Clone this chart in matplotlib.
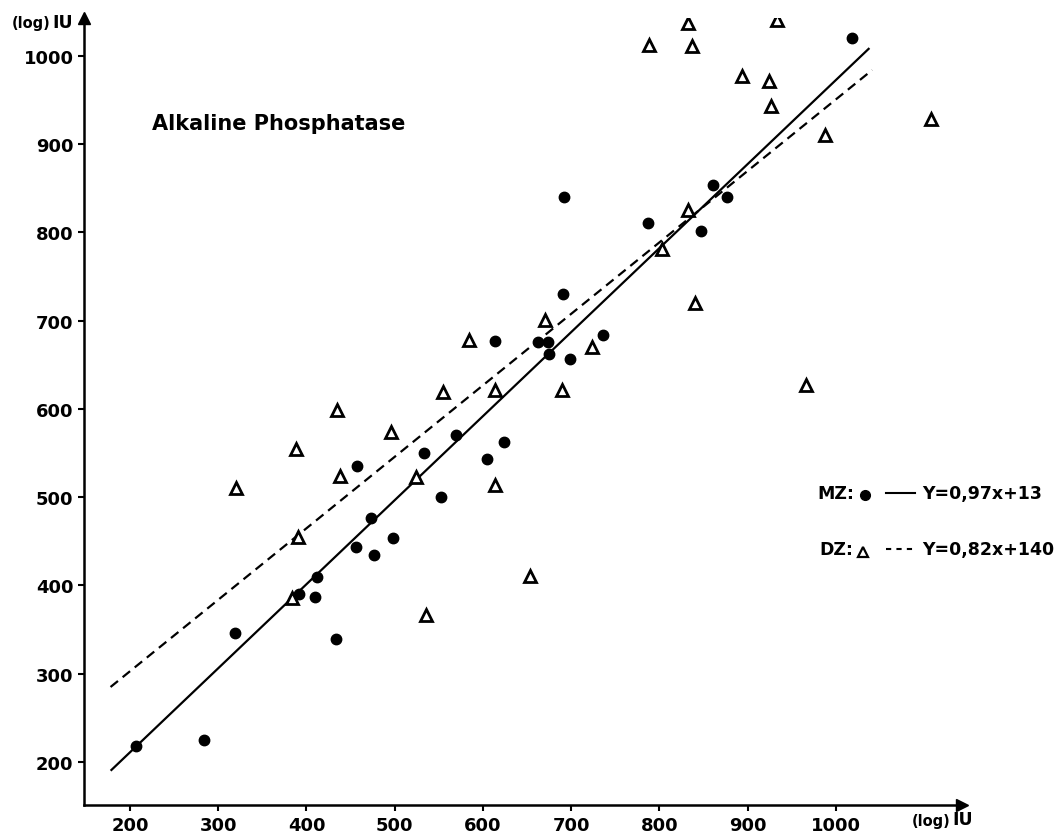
import numpy as np
import matplotlib
matplotlib.use("Agg")
import matplotlib.pyplot as plt

# MZ twins (filled dots)
mz_x = [207, 284, 319, 392, 410, 412, 434, 457, 456, 473, 476, 498, 533, 552, 570,
        605, 624, 614, 662, 674, 675, 699, 736, 691, 692, 787, 861, 876, 847, 1018]
mz_y = [218, 225, 346, 390, 387, 410, 339, 535, 444, 476, 434, 454, 550, 500, 570,
        543, 563, 677, 676, 676, 662, 657, 684, 730, 840, 811, 854, 840, 802, 1020]

# DZ twins (open triangles)
dz_x = [320, 388, 390, 384, 435, 438, 496, 524, 535, 555, 584, 614, 614, 653, 670,
        690, 724, 803, 832, 840, 966, 988, 926, 924, 894, 837, 788, 832, 933, 1108]
dz_y = [510, 555, 455, 386, 599, 524, 574, 523, 366, 619, 678, 622, 514, 411, 701,
        621, 670, 781, 825, 720, 627, 910, 943, 972, 977, 1011, 1012, 1037, 1041, 928]

# regression lines as drawn (end points)
mz_line_x = [179, 1037]
mz_line_y = [191, 1008]
dz_line_x = [178, 1041]
dz_line_y = [285, 984]
mz_label = "Y=0,97x+13"
dz_label = "Y=0,82x+140"

ticks = [200, 300, 400, 500, 600, 700, 800, 900, 1000]

plt.rcParams["font.family"] = ["DejaVu Sans"]
plt.rcParams["font.weight"] = "bold"

fig = plt.figure(figsize=(10.59, 8.37), dpi=100)
ax = fig.add_axes([0.0793, 0.03704, 0.8291, 0.9403])

ax.plot(mz_line_x, mz_line_y, color="black", lw=1.6)
ax.plot(dz_line_x, dz_line_y, color="black", lw=1.6, dashes=(4.3, 2.7))

ax.plot(mz_x, mz_y, "o", color="black", ms=7.5, ls="none")
ax.plot(dz_x, dz_y, "^", mfc="white", mec="black", mew=2, ms=8.5, ls="none")

ax.set_xlim(147.9, 1142.8)
ax.set_ylim(151.3, 1043)
ax.set_xticks(ticks)
ax.set_yticks(ticks)
ax.tick_params(axis="y", direction="out", length=4, width=1.5, labelsize=13, pad=3.5)
ax.tick_params(axis="x", direction="out", length=4, width=1.5, labelsize=13, pad=4)
for lab in ax.get_xticklabels() + ax.get_yticklabels():
    lab.set_fontweight("bold")

for s in ["top", "right"]:
    ax.spines[s].set_visible(False)
for s in ["left", "bottom"]:
    ax.spines[s].set_linewidth(1.8)

# arrow heads on the axes
ax.plot(1, 0, ">", color="black", ms=9, transform=ax.transAxes, clip_on=False)
ax.plot(0, 1, "^", color="black", ms=9, transform=ax.transAxes, clip_on=False)

# axis labels
fig.text(0.048, 0.972, "(log)", fontsize=10.5, fontweight="bold", ha="right", va="center")
fig.text(0.049, 0.973, "IU", fontsize=12.5, fontweight="bold", ha="left", va="center")
fig.text(0.898, 0.019, "(log)", fontsize=10.5, fontweight="bold", ha="right", va="center")
fig.text(0.899, 0.020, "IU", fontsize=12.5, fontweight="bold", ha="left", va="center")

ax.text(0.077, 0.867, "Alkaline Phosphatase", transform=ax.transAxes,
        fontsize=15, fontweight="bold", ha="left", va="center")

# key
ky1, ky2 = 0.397, 0.325
ax.text(0.835, ky1, "MZ:", transform=ax.transAxes, fontsize=12.5, fontweight="bold",
        ha="left", va="center", clip_on=False)
ax.plot(0.889, ky1 - 0.003, "o", color="black", ms=7, transform=ax.transAxes, clip_on=False)
ax.plot([0.914, 0.946], [ky1, ky1], color="black", lw=1.5,
        transform=ax.transAxes, clip_on=False)
ax.text(0.955, ky1, mz_label, transform=ax.transAxes, fontsize=12.5,
        fontweight="bold", ha="left", va="center", clip_on=False)

ax.text(0.837, ky2, "DZ:", transform=ax.transAxes, fontsize=12.5, fontweight="bold",
        ha="left", va="center", clip_on=False)
ax.plot(0.887, ky2 - 0.003, "^", mfc="white", mec="black", mew=1.6, ms=6.5,
        transform=ax.transAxes, clip_on=False)
ax.plot([0.914, 0.946], [ky2, ky2], color="black", lw=1.5, dashes=(2.5, 2.5),
        transform=ax.transAxes, clip_on=False)
ax.text(0.955, ky2, dz_label, transform=ax.transAxes, fontsize=12.5,
        fontweight="bold", ha="left", va="center", clip_on=False)

fig.savefig("out.png", dpi=100)
